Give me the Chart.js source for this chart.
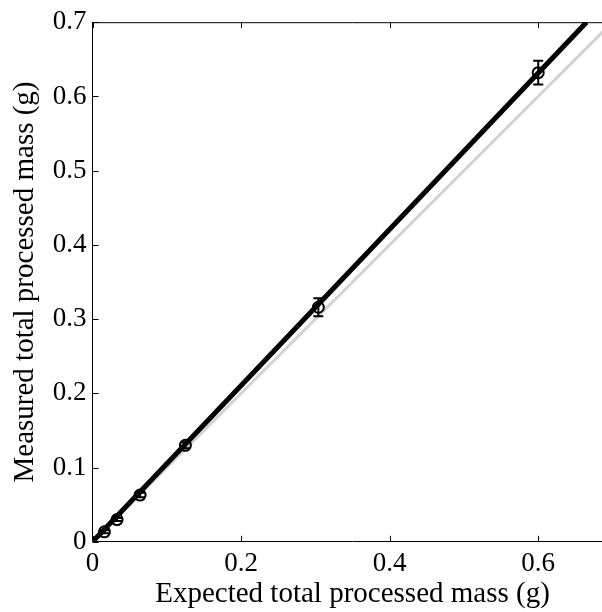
<!DOCTYPE html>
<html lang="en">
<head>
    <meta charset="UTF-8">
    <title>Processed mass</title>
    <script src="https://cdn.jsdelivr.net/npm/chart.js"></script>
    <style>
        html, body { margin: 0; padding: 0; background: #fff; overflow: hidden; }
        #wrap { width: 602px; height: 612px; overflow: hidden; }
    </style>
</head>
<body>
    <div id="wrap"><canvas id="massChart" width="620" height="612"></canvas></div>
    <script>
        // measured points
        const expectedMass = [0.016, 0.033, 0.064, 0.125, 0.304, 0.6];
        const measuredMass = [0.0135, 0.030, 0.063, 0.130, 0.316, 0.632];
        const measuredErr = [0.002, 0.002, 0.003, 0.004, 0.012, 0.016];

        // fitted line and the 1:1 reference line
        const fitX = [0, 0.665];
        const fitY = [0, 0.7];
        const idealX = [0, 0.7];
        const idealY = [0, 0.7];

        const xTicks = [0, 0.2, 0.4, 0.6];
        const yTicks = [0, 0.1, 0.2, 0.3, 0.4, 0.5, 0.6, 0.7];

        const serif = "'Liberation Serif', 'Times New Roman', serif";

        const toPts = (xs, ys) => xs.map((x, i) => ({ x: x, y: ys[i] }));

        // error bars + inward ticks + top frame line
        const extrasPlugin = {
            id: 'extras',
            afterDatasetsDraw(chart) {
                const ctx = chart.ctx;
                const xs = chart.scales.x, ys = chart.scales.y;
                ctx.save();
                ctx.strokeStyle = '#000';
                ctx.lineWidth = 2;
                expectedMass.forEach((x, i) => {
                    const px = xs.getPixelForValue(x);
                    const top = ys.getPixelForValue(measuredMass[i] + measuredErr[i]);
                    const bot = ys.getPixelForValue(measuredMass[i] - measuredErr[i]);
                    ctx.beginPath();
                    ctx.moveTo(px, top); ctx.lineTo(px, bot);
                    ctx.moveTo(px - 5, top); ctx.lineTo(px + 5, top);
                    ctx.moveTo(px - 5, bot); ctx.lineTo(px + 5, bot);
                    ctx.stroke();
                });
                ctx.restore();
            },
            afterDraw(chart) {
                const ctx = chart.ctx;
                const xs = chart.scales.x, ys = chart.scales.y;
                const a = chart.chartArea;
                ctx.save();
                ctx.strokeStyle = '#000';
                ctx.lineWidth = 1;
                ctx.beginPath();
                ctx.moveTo(a.left, a.top + 0.5); ctx.lineTo(a.right, a.top + 0.5);
                xTicks.forEach(v => {
                    const px = Math.round(xs.getPixelForValue(v)) + 0.5;
                    ctx.moveTo(px, a.bottom); ctx.lineTo(px, a.bottom - 6);
                    ctx.moveTo(px, a.top); ctx.lineTo(px, a.top + 6);
                });
                yTicks.forEach(v => {
                    const py = Math.round(ys.getPixelForValue(v)) + 0.5;
                    ctx.moveTo(a.left, py); ctx.lineTo(a.left + 6, py);
                });
                ctx.stroke();
                ctx.restore();
            }
        };

        new Chart(document.getElementById('massChart'), {
            type: 'scatter',
            data: {
                datasets: [
                    {
                        label: 'ideal', type: 'line', data: toPts(idealX, idealY),
                        borderColor: '#d3d3d3', borderWidth: 3, pointRadius: 0, fill: false, order: 3
                    },
                    {
                        label: 'fit', type: 'line', data: toPts(fitX, fitY),
                        borderColor: '#000', borderWidth: 5, pointRadius: 0, fill: false, order: 2
                    },
                    {
                        label: 'measured', data: toPts(expectedMass, measuredMass),
                        borderColor: '#000', backgroundColor: 'rgba(0,0,0,0)',
                        borderWidth: 2, pointRadius: 5.5, order: 1
                    }
                ]
            },
            options: {
                responsive: false,
                animation: false,
                layout: { padding: { top: 8, right: 0, left: 8, bottom: 0 } },
                plugins: { legend: { display: false }, tooltip: { enabled: false } },
                scales: {
                    x: {
                        type: 'linear', min: 0, max: 0.7,
                        afterBuildTicks: s => { s.ticks = xTicks.map(v => ({ value: v })); },
                        grid: { drawOnChartArea: false, drawTicks: false },
                        border: { color: '#000', width: 1 },
                        ticks: {
                            color: '#000', padding: 6, maxRotation: 0,
                            font: { family: serif, size: 27 },
                            callback: v => String(v)
                        },
                        title: {
                            display: true, text: 'Expected total processed mass (g)', color: '#000',
                            font: { family: serif, size: 29 }, padding: { top: -9, bottom: 0 }
                        }
                    },
                    y: {
                        type: 'linear', min: 0, max: 0.7,
                        afterBuildTicks: s => { s.ticks = yTicks.map(v => ({ value: v })); },
                        grid: { drawOnChartArea: false, drawTicks: false },
                        border: { color: '#000', width: 1 },
                        ticks: {
                            color: '#000', padding: 6,
                            font: { family: serif, size: 27 },
                            callback: v => String(v)
                        },
                        title: {
                            display: true, text: 'Measured total processed mass (g)', color: '#000',
                            font: { family: serif, size: 29 }, padding: { top: 0, bottom: 4 }
                        }
                    }
                }
            },
            plugins: [extrasPlugin]
        });
    </script>
</body>
</html>
